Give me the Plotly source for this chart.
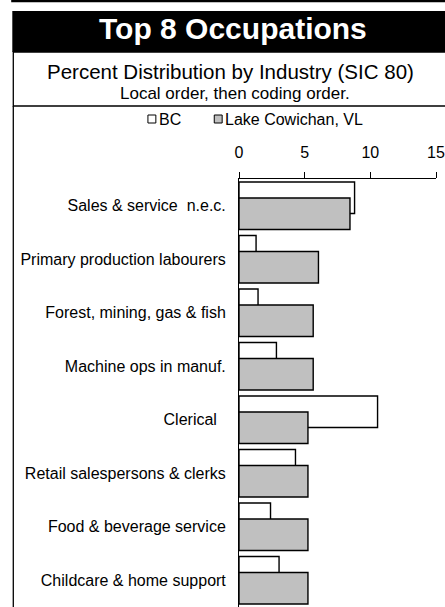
import plotly.graph_objects as go

# Data (percent of employed labour force)
occupations = [
    "Sales & service\u00a0 n.e.c.",
    "Primary production labourers",
    "Forest, mining, gas & fish",
    "Machine ops in manuf.",
    "Clerical\u00a0\u00a0",
    "Retail salespersons & clerks",
    "Food & beverage service",
    "Childcare & home support",
]
bc_pct = [8.8, 1.3, 1.45, 2.85, 10.55, 4.3, 2.4, 3.05]
lake_cowichan_pct = [8.45, 6.05, 5.65, 5.65, 5.25, 5.25, 5.25, 5.25]
series_names = ["BC", "Lake Cowichan, VL"]
x_ticks = [0, 5, 10, 15]

W, H = 445, 607
PL, PR, PT, PB = 239, 438, 179, 607  # plot area in pixels
FONT = "Arial, Liberation Sans, sans-serif"


def px_x(p):
    return (p - PL) / (PR - PL)


def px_y(p):
    return (PB - p) / (PB - PT)


fig = go.Figure()

# BC drawn first, Lake Cowichan overlaps its lower half
fig.add_trace(go.Bar(
    y=occupations, x=bc_pct, orientation="h", name=series_names[0],
    marker=dict(color="white", line=dict(color="black", width=1.4)),
    offset=-0.445, width=0.59,
))
fig.add_trace(go.Bar(
    y=occupations, x=lake_cowichan_pct, orientation="h", name=series_names[1],
    marker=dict(color="#c0c0c0", line=dict(color="black", width=1.4)),
    offset=-0.146, width=0.59,
))

shapes = [
    # top rule (bottom of a box above)
    dict(type="rect", x0=px_x(10), x1=px_x(470), y0=px_y(1.2), y1=px_y(-20),
         line=dict(color="black", width=2.2)),
    # black title band
    dict(type="rect", x0=px_x(10), x1=px_x(470), y0=px_y(52), y1=px_y(11),
         fillcolor="black", line=dict(width=0)),
    # subtitle box
    dict(type="rect", x0=px_x(11), x1=px_x(470), y0=px_y(106), y1=px_y(52),
         line=dict(color="black", width=1.3)),
    # left frame of chart area
    dict(type="line", x0=px_x(11), x1=px_x(11), y0=px_y(106), y1=px_y(620),
         line=dict(color="black", width=1.3)),
    # legend keys
    dict(type="rect", x0=px_x(147), x1=px_x(155), y0=px_y(123), y1=px_y(115),
         fillcolor="white", line=dict(color="black", width=1)),
    dict(type="rect", x0=px_x(214), x1=px_x(222), y0=px_y(123), y1=px_y(115),
         fillcolor="#c0c0c0", line=dict(color="black", width=1)),
]

annotations = [
    dict(text="<b>Top 8 Occupations</b>", x=px_x(233), y=px_y(28),
         font=dict(size=30, color="white", family=FONT)),
    dict(text="Percent Distribution by Industry (SIC 80)", x=px_x(230), y=px_y(71),
         font=dict(size=20.5, color="black", family=FONT)),
    dict(text="Local order, then coding order.", x=px_x(235), y=px_y(94),
         font=dict(size=17, color="black", family=FONT)),
    dict(text=series_names[0], x=px_x(156), y=px_y(119), xanchor="left",
         font=dict(size=16, color="black", family=FONT)),
    dict(text=series_names[1], x=px_x(223), y=px_y(119), xanchor="left",
         font=dict(size=16, color="black", family=FONT)),
]
for a in annotations:
    a.update(xref="paper", yref="paper", showarrow=False, yanchor="middle",
             xanchor=a.get("xanchor", "center"))
for s in shapes:
    s.update(xref="paper", yref="paper", layer="above" if s["type"] == "line" else "below")

fig.update_layout(
    width=W, height=H,
    margin=dict(l=PL, r=W - PR, t=PT, b=H - PB, pad=0),
    paper_bgcolor="white", plot_bgcolor="white",
    barmode="overlay", showlegend=False,
    font=dict(family=FONT, size=16, color="black"),
    shapes=shapes, annotations=annotations,
)
fig.update_xaxes(
    side="top", range=[0, 15], tickvals=x_ticks, ticks="outside", ticklen=6,
    tickcolor="black", showline=True, linecolor="black", linewidth=1,
    showgrid=False, zeroline=False, ticklabelstandoff=8,
    ticklabeloverflow="allow",
    tickfont=dict(size=16, family=FONT),
)
fig.update_yaxes(
    autorange="reversed", showline=True, linecolor="black", linewidth=1,
    ticks="", showgrid=False, ticklabelstandoff=9,
    tickfont=dict(size=16, family=FONT),
)

fig.write_html(
    "out.html",
    config={"displayModeBar": False},
    post_script="document.body.style.margin='0';document.body.style.overflow='hidden';",
)
